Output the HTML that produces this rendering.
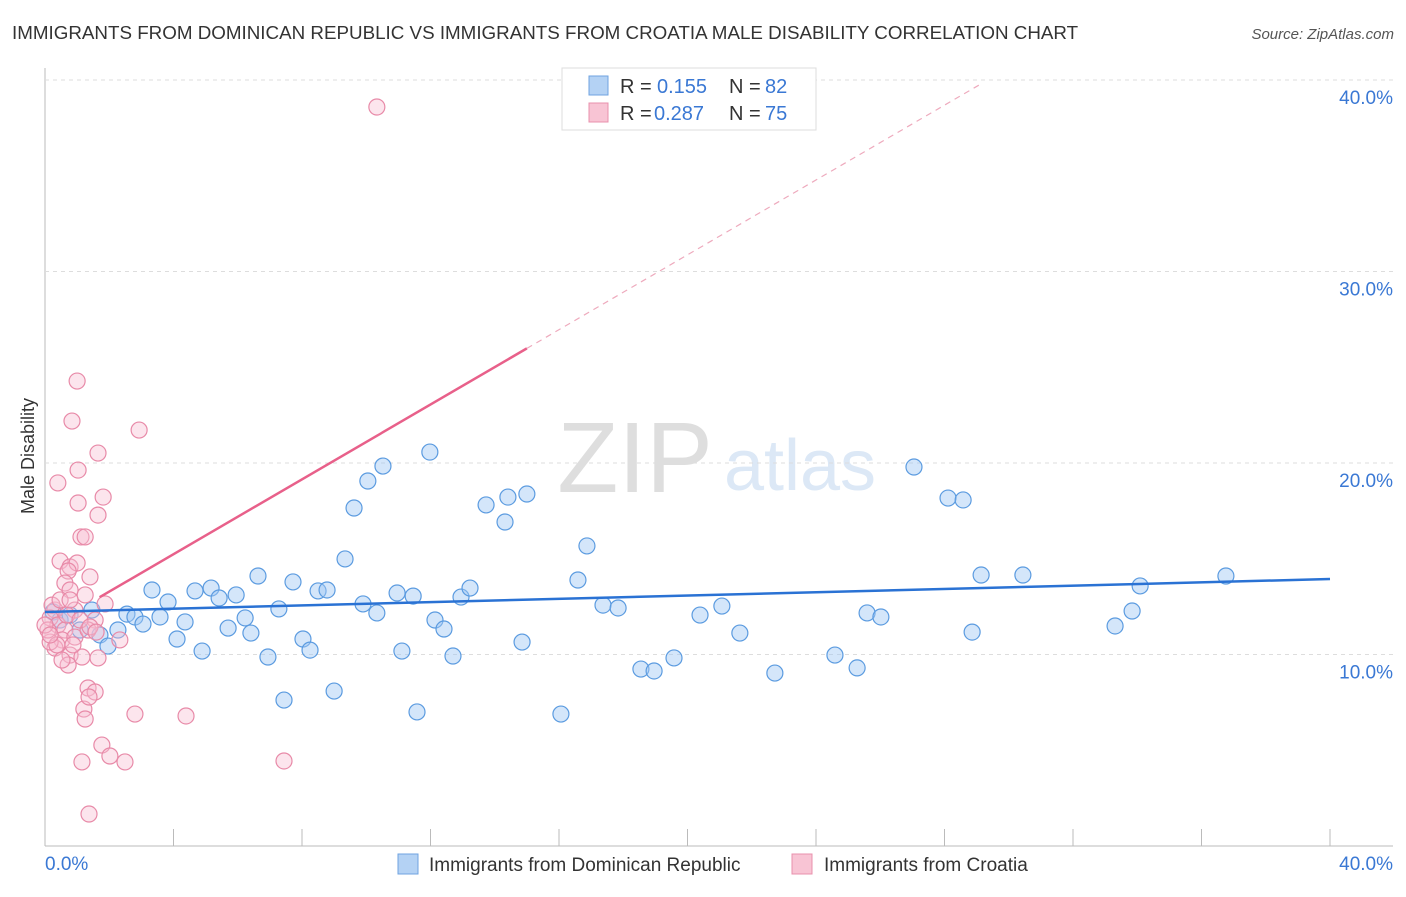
<!DOCTYPE html>
<html><head><meta charset="utf-8"><style>
body{margin:0;background:#fff;font-family:"Liberation Sans",sans-serif}
svg text{font-family:"Liberation Sans",sans-serif}
</style></head><body>
<svg id="c" width="1406" height="892" xmlns="http://www.w3.org/2000/svg">
<text x="12" y="39" font-size="18.8" fill="#333">IMMIGRANTS FROM DOMINICAN REPUBLIC VS IMMIGRANTS FROM CROATIA MALE DISABILITY CORRELATION CHART</text>
<text x="1394" y="39" font-size="15" fill="#555" font-style="italic" text-anchor="end">Source: ZipAtlas.com</text>
<text x="635" y="492" font-size="100" fill="#dedede" font-family="Liberation Serif" text-anchor="middle">ZIP</text>
<text x="800" y="490" font-size="72" fill="#dce8f6" text-anchor="middle">atlas</text>
<g id="grid"></g><g id="pts"></g><g id="lines"></g>
<text transform="translate(34,456) rotate(-90)" font-size="18" fill="#333" text-anchor="middle">Male Disability</text>
<g>
<rect x="562" y="68" width="254" height="62" fill="#fff" stroke="#ddd"/>
<rect x="589" y="76" width="19" height="19" fill="#b4d2f4" stroke="#6fa3e0"/>
<text x="620" y="93" font-size="20" fill="#333">R =</text>
<text x="657" y="93" font-size="20" fill="#3a78d4">0.155</text>
<text x="729" y="93" font-size="20" fill="#333">N =</text>
<text x="765" y="93" font-size="20" fill="#3a78d4">82</text>
<rect x="589" y="103" width="19" height="19" fill="#f8c4d4" stroke="#e890ac"/>
<text x="620" y="120" font-size="20" fill="#333">R =</text>
<text x="654" y="120" font-size="20" fill="#3a78d4">0.287</text>
<text x="729" y="120" font-size="20" fill="#333">N =</text>
<text x="765" y="120" font-size="20" fill="#3a78d4">75</text>
</g>
<g>
<rect x="398" y="854" width="20" height="20" fill="#b4d2f4" stroke="#6fa3e0"/>
<text x="429" y="871" font-size="19" fill="#333">Immigrants from Dominican Republic</text>
<rect x="792" y="854" width="20" height="20" fill="#f8c4d4" stroke="#e890ac"/>
<text x="824" y="871" font-size="19" fill="#333">Immigrants from Croatia</text>
</g>
</svg>
<script>
const yTicks=[10,20,30,40];
const yTickLabels=["10.0%","20.0%","30.0%","40.0%"];
const xTickLabels=["0.0%","40.0%"];
const bluePx=[[53,612],[60,620],[70,615],[80,630],[92,610],[100,635],[108,646],[118,630],[127,614],[135,617],[143,624],[152,590],[160,617],[168,602],[177,639],[185,622],[195,591],[202,651],[211,588],[219,598],[228,628],[236,595],[245,618],[251,633],[258,576],[268,657],[279,609],[284,700],[293,582],[303,639],[310,650],[318,591],[327,590],[334,691],[345,559],[354,508],[363,604],[368,481],[377,613],[383,466],[397,593],[402,651],[413,596],[417,712],[430,452],[435,620],[444,629],[453,656],[461,597],[470,588],[486,505],[505,522],[508,497],[522,642],[527,494],[561,714],[578,580],[587,546],[603,605],[618,608],[641,669],[654,671],[674,658],[700,615],[722,606],[740,633],[775,673],[835,655],[857,668],[867,613],[881,617],[914,467],[948,498],[963,500],[972,632],[981,575],[1023,575],[1115,626],[1132,611],[1140,586],[1226,576]];
const pinkPx=[[77,381],[72,421],[139,430],[98,453],[78,470],[58,483],[103,497],[78,503],[98,515],[81,537],[85,537],[60,561],[70,567],[77,563],[90,577],[68,571],[65,583],[85,595],[70,590],[105,604],[55,610],[50,618],[58,625],[65,630],[75,610],[95,620],[62,640],[75,637],[88,630],[120,640],[70,655],[55,648],[68,665],[82,657],[98,658],[88,688],[95,692],[84,709],[89,697],[85,719],[102,745],[110,756],[82,762],[125,762],[135,714],[186,716],[284,761],[89,814],[377,107],[50,642],[48,630],[52,605],[60,600],[67,615],[80,620],[90,627],[45,625],[57,645],[73,645],[96,632],[50,635],[62,660],[70,600]];
// data values (percent)
const blueX=bluePx.map(p=>+((p[0]-45)/32.125).toFixed(2));
const blueY=bluePx.map(p=>+((846-p[1])/19.15).toFixed(2));
const pinkX=pinkPx.map(p=>+((p[0]-45)/32.125).toFixed(2));
const pinkY=pinkPx.map(p=>+((846-p[1])/19.15).toFixed(2));
const blueTrend=[12.22,13.94];
const pinkTrend=[11.33,0.977];
const X=v=>45+v*32.125, Y=v=>846-v*19.15;
const NS="http://www.w3.org/2000/svg";
function mk(t,a,p){const e=document.createElementNS(NS,t);for(const k in a)e.setAttribute(k,a[k]);p.appendChild(e);return e;}
const g=document.getElementById('grid');
let ax=mk('line',{x1:45,y1:68,x2:45,y2:846,stroke:'#bbb'},g);


let bx=mk('line',{x1:45,y1:846,x2:1393,y2:846,stroke:'#bbb'},g);


for(let i=1;i<=10;i++){const t=mk('line',{x1:X(i*4),y1:829,x2:X(i*4),y2:846,stroke:'#bbb'},g);

}
yTicks.forEach((v,i)=>{const l=mk('line',{x1:45,y1:Y(v),x2:1393,y2:Y(v),stroke:'#ddd','stroke-dasharray':'4,4'},g);


const t=mk('text',{x:1393,y:Y(v)+24,'font-size':19,fill:'#3a78d4','text-anchor':'end'},g);t.textContent=yTickLabels[i];

});
const xl=[[45,'start'],[1393,'end']];
xTickLabels.forEach((s,i)=>{const t=mk('text',{x:xl[i][0],y:870,'font-size':19,fill:'#3a78d4','text-anchor':xl[i][1]},g);t.textContent=s;

});
const P=document.getElementById('pts');
blueX.forEach((x,i)=>{const c=mk('circle',{cx:X(x),cy:Y(blueY[i]),r:8,fill:'rgba(160,200,245,0.45)',stroke:'#5b9be0','stroke-width':1.2},P);

});
pinkX.forEach((x,i)=>{const c=mk('circle',{cx:X(x),cy:Y(pinkY[i]),r:8,fill:'rgba(248,190,210,0.4)',stroke:'#e88aa8','stroke-width':1.2},P);

});
const L=document.getElementById('lines');
let bl=mk('line',{x1:X(0),y1:Y(blueTrend[0]),x2:X(40),y2:Y(blueTrend[1]),stroke:'#2a72d4','stroke-width':2.5},L);


const pf=x=>pinkTrend[0]+pinkTrend[1]*x;
let pl=mk('line',{x1:X(1.7),y1:Y(pf(1.7)),x2:X(15),y2:Y(pf(15)),stroke:'#e8608a','stroke-width':2.5},L);


let pd=mk('line',{x1:X(15),y1:Y(pf(15)),x2:X(29.1),y2:Y(pf(29.1)),stroke:'#eeaabd','stroke-width':1.2,'stroke-dasharray':'6,5'},L);


</script>
</body></html>
